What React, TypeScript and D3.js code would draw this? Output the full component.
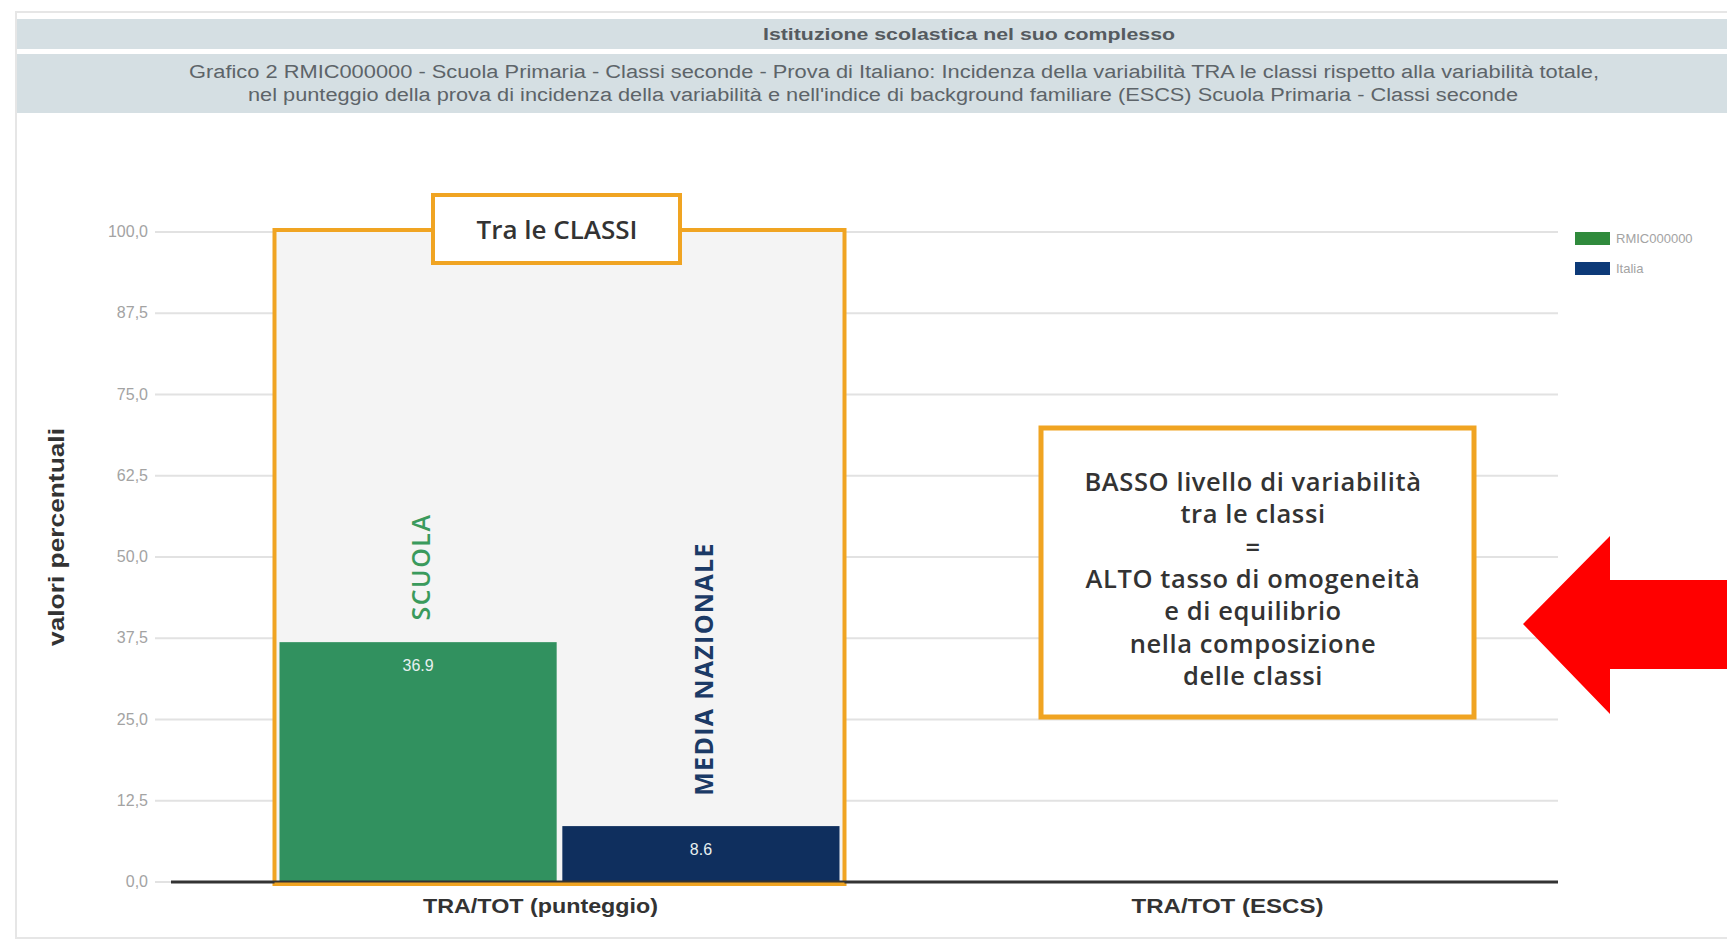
import React from "react";
import * as d3 from "d3";

const categories = ["TRA/TOT (punteggio)", "TRA/TOT (ESCS)"];
const seriesNames = ["RMIC000000", "Italia"];
const scuolaValues = [36.9, null];
const italiaValues = [8.6, null];
const yTicks = [0, 12.5, 25, 37.5, 50, 62.5, 75, 87.5, 100];
const noteLines = [
  "BASSO livello di variabilità",
  "tra le classi",
  "=",
  "ALTO tasso di omogeneità",
  "e di equilibrio",
  "nella composizione",
  "delle classi",
];

const W = 1727;
const H = 943;
const barColors = ["#31915f", "#0f2f5e"];
const legendColors = ["#2f8a3c", "#0d3a78"];
const orange = "#f0a422";

const App = () => {
  const y = d3.scaleLinear().domain([0, 100]).range([882, 232]);
  const x0 = d3.scaleBand().domain(categories).range([197, 1571]);
  const bw = x0.bandwidth();
  const groupW = 560;
  const groupShift = 19; // bars sit a little right of the category label
  const x1 = d3
    .scaleBand()
    .domain(seriesNames)
    .range([(bw - groupW) / 2 + groupShift, (bw + groupW) / 2 + groupShift])
    .paddingInner(0.02);
  const fmtTick = (v) => d3.format(".1f")(v).replace(".", ",");
  const fmtVal = d3.format(".1f");

  const series = [scuolaValues, italiaValues];
  const g0 = x0(categories[0]);
  const frameX0 = g0 + x1.range()[0] - 5;
  const frameX1 = g0 + x1.range()[1] + 5;

  return (
    <div>
      <style>{`body{margin:0}`}</style>
      <svg width={W} height={H} style={{ display: "block", background: "#fff" }}>
        {/* outer frame */}
        <rect x={16} y={12} width={W} height={926} fill="#fff" stroke="#e6e6e6" strokeWidth={2} />
        {/* header bands */}
        <rect x={17} y={19} width={W} height={30} fill="#d5dfe3" />
        <rect x={17} y={54} width={W} height={59} fill="#d5dfe3" />
        <text
          x={969}
          y={40}
          textAnchor="middle"
          fontFamily="Liberation Sans, Arial, sans-serif"
          fontSize={17}
          fontWeight="bold"
          fill="#555b60"
          textLength={412}
          lengthAdjust="spacingAndGlyphs"
        >
          Istituzione scolastica nel suo complesso
        </text>
        <text
          x={894}
          y={78}
          textAnchor="middle"
          fontFamily="Liberation Sans, Arial, sans-serif"
          fontSize={18}
          fill="#5d6469"
          textLength={1410}
          lengthAdjust="spacingAndGlyphs"
        >
          Grafico 2 RMIC000000 - Scuola Primaria - Classi seconde - Prova di Italiano: Incidenza della variabilità TRA le classi rispetto alla variabilità totale,
        </text>
        <text
          x={883}
          y={101}
          textAnchor="middle"
          fontFamily="Liberation Sans, Arial, sans-serif"
          fontSize={18}
          fill="#5d6469"
          textLength={1270}
          lengthAdjust="spacingAndGlyphs"
        >
          nel punteggio della prova di incidenza della variabilità e nell'indice di background familiare (ESCS) Scuola Primaria - Classi seconde
        </text>

        {/* grid + y ticks */}
        {yTicks.map((t) => (
          <g key={t}>
            <line x1={155} x2={1558} y1={y(t)} y2={y(t)} stroke="#e2e2e2" strokeWidth={2} />
            <text
              x={148}
              y={y(t) + 5}
              textAnchor="end"
              fontFamily="Liberation Sans, Arial, sans-serif"
              fontSize={16}
              fill="#a3a3a3"
            >
              {fmtTick(t)}
            </text>
          </g>
        ))}
        <text
          transform={`translate(64,537) rotate(-90)`}
          textAnchor="middle"
          fontFamily="Liberation Sans, Arial, sans-serif"
          fontSize={22}
          fontWeight="bold"
          fill="#333"
          textLength={218}
          lengthAdjust="spacingAndGlyphs"
        >
          valori percentuali
        </text>

        {/* frame behind first group */}
        <rect
          x={frameX0}
          y={y(100) - 2}
          width={frameX1 - frameX0}
          height={y(0) - y(100) + 4}
          fill="#f4f4f4"
          stroke={orange}
          strokeWidth={4}
        />

        {/* bars */}
        {categories.map((c, ci) => (
          <g key={c} transform={`translate(${x0(c)},0)`}>
            {seriesNames.map((s, si) => {
              const v = series[si][ci];
              if (v == null) return null;
              return (
                <g key={s}>
                  <rect
                    x={x1(s)}
                    y={y(v)}
                    width={x1.bandwidth()}
                    height={y(0) - y(v)}
                    fill={barColors[si]}
                  />
                  <text
                    x={x1(s) + x1.bandwidth() / 2}
                    y={y(v) + 29}
                    textAnchor="middle"
                    fontFamily="Liberation Sans, Arial, sans-serif"
                    fontSize={16}
                    fill="#e8f0f0"
                  >
                    {fmtVal(v)}
                  </text>
                </g>
              );
            })}
          </g>
        ))}

        {/* baseline */}
        <line x1={171} x2={1558} y1={y(0)} y2={y(0)} stroke="#333" strokeWidth={3} />
        <line x1={frameX0} x2={frameX1} y1={y(0) + 2} y2={y(0) + 2} stroke={orange} strokeWidth={3} />

        {/* category labels */}
        {categories.map((c, i) => (
          <text
            key={c}
            x={x0(c) + bw / 2}
            y={913}
            textAnchor="middle"
            fontFamily="Liberation Sans, Arial, sans-serif"
            fontSize={21}
            fontWeight="bold"
            fill="#333"
            textLength={i === 0 ? 235 : 192}
            lengthAdjust="spacingAndGlyphs"
          >
            {c}
          </text>
        ))}

        {/* vertical series labels */}
        <text
          transform={`translate(${g0 + x1(seriesNames[0]) + x1.bandwidth() / 2 + 5},567) rotate(-90)`}
          textAnchor="middle"
          dominantBaseline="middle"
          fontFamily="Open Sans, sans-serif"
          fontSize={25}
          fontWeight={600}
          letterSpacing={1.5}
          fill="#3a9a5c"
        >
          SCUOLA
        </text>
        <text
          transform={`translate(${g0 + x1(seriesNames[1]) + x1.bandwidth() / 2 + 5},669) rotate(-90)`}
          textAnchor="middle"
          dominantBaseline="middle"
          fontFamily="Open Sans, sans-serif"
          fontSize={25}
          fontWeight={700}
          letterSpacing={1.3}
          fill="#1b3a66"
        >
          MEDIA NAZIONALE
        </text>

        {/* "Tra le CLASSI" box */}
        <rect x={433} y={195} width={247} height={68} fill="#fff" stroke={orange} strokeWidth={4} />
        <text
          x={557}
          y={239}
          textAnchor="middle"
          fontFamily="Open Sans, sans-serif"
          fontSize={26}
          fontWeight={600}
          fill="#333"
        >
          Tra le CLASSI
        </text>

        {/* right note box */}
        <rect x={1041} y={428} width={433} height={289} fill="#fff" stroke={orange} strokeWidth={5} />
        {noteLines.map((l, i) => (
          <text
            key={i}
            x={1253}
            y={491 + i * 32.3}
            textAnchor="middle"
            fontFamily="Open Sans, sans-serif"
            fontSize={25.5}
            fontWeight={600}
            letterSpacing={0.6}
            fill="#333"
          >
            {l}
          </text>
        ))}

        {/* legend */}
        {seriesNames.map((s, i) => (
          <g key={s} transform={`translate(1575,${232 + i * 30})`}>
            <rect width={35} height={13} fill={legendColors[i]} />
            <text
              x={41}
              y={11}
              fontFamily="Liberation Sans, Arial, sans-serif"
              fontSize={13}
              fill="#a3a3a3"
            >
              {s}
            </text>
          </g>
        ))}

        {/* red arrow */}
        <path
          d="M1523,624 L1610,536 L1610,580 L1727,580 L1727,669 L1610,669 L1610,714 Z"
          fill="#ff0000"
        />
      </svg>
    </div>
  );
};

export default App;
